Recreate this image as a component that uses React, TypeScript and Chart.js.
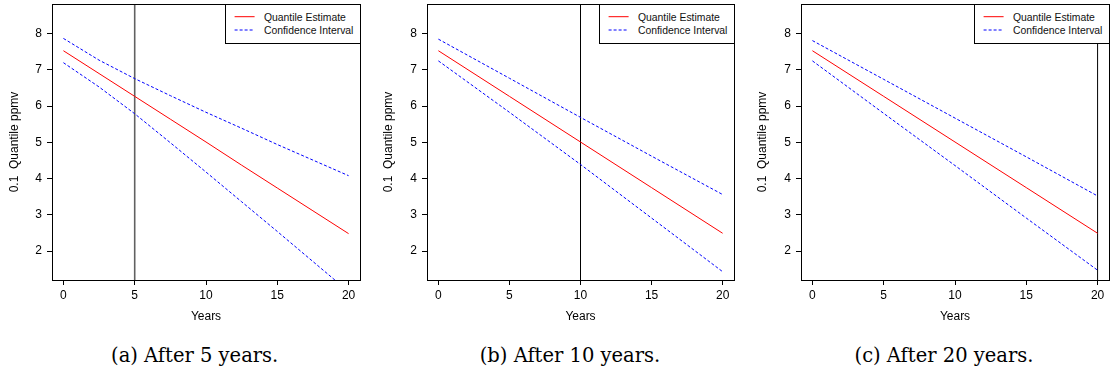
import React, { useEffect, useRef } from 'react';
import { Chart, registerables } from 'chart.js';

Chart.register(...registerables);

// ---------------- data ----------------
const xTicks = [0, 5, 10, 15, 20];
const yTicks = [2, 3, 4, 5, 6, 7, 8];
const xMin = -0.8;
const xMax = 20.8;
const yMin = 1.2;
const yMax = 8.82;

const yearsA = [0, 2.5, 5, 7.5, 10, 12.5, 15, 17.5, 20];
const estimateA = [7.53, 6.9, 6.27, 5.64, 5.01, 4.37, 3.74, 3.11, 2.48];
const upperA = [7.87, 7.27, 6.76, 6.29, 5.83, 5.39, 4.94, 4.51, 4.08];
const lowerA = [7.2, 6.53, 5.79, 4.99, 4.18, 3.36, 2.54, 1.71, 0.88];

const yearsB = [0, 5, 10, 15, 20];
const estimateB = [7.53, 6.27, 5.01, 3.75, 2.49];
const upperB = [7.85, 6.77, 5.69, 4.62, 3.56];
const lowerB = [7.25, 5.83, 4.39, 2.91, 1.43];

const yearsC = [0, 5, 10, 15, 20];
const estimateC = [7.53, 6.27, 5.01, 3.75, 2.49];
const upperC = [7.81, 6.74, 5.67, 4.6, 3.52];
const lowerC = [7.25, 5.8, 4.36, 2.91, 1.47];

const cutoffYears = [5, 10, 20];
const captions = ['(a) After 5 years.', '(b) After 10 years.', '(c) After 20 years.'];
const legendLabels = ['Quantile Estimate', 'Confidence Interval'];
const xTitle = 'Years';
const yTitle = '0.1  Quantile ppmv';

// ---------------- layout / style ----------------
const SANS = "'Liberation Sans', Arial, Helvetica, sans-serif";
const SERIF = "'DejaVu Serif', serif";
const CANVAS_H = 330;
const PLOT_TOP = 4;
const X_AXIS_H = 50;

const panelLayouts = [
  { left: 0, axisW: 52, right: 360, yTitleCenter: 15, captionX: 194.7, vColor: 'rgba(0,0,0,0.62)', vWidth: 1.6 },
  { left: 370, axisW: 57, right: 734, yTitleCenter: 388.3, captionX: 570, vColor: '#000', vWidth: 1 },
  { left: 740, axisW: 61, right: 1109, yTitleCenter: 762.8, captionX: 944, vColor: '#000', vWidth: 1 },
];

const panelData = [
  { years: yearsA, est: estimateA, up: upperA, lo: lowerA },
  { years: yearsB, est: estimateB, up: upperB, lo: lowerB },
  { years: yearsC, est: estimateC, up: upperC, lo: lowerC },
];

const boxPlugin = {
  id: 'rbox',
  afterDraw(chart: any) {
    const { ctx, chartArea } = chart;
    ctx.save();
    ctx.strokeStyle = '#000';
    ctx.lineWidth = 1;
    const l = Math.round(chartArea.left) + 0.5;
    const t = Math.round(chartArea.top) + 0.5;
    const r = Math.round(chartArea.right) + 0.5;
    const b = Math.round(chartArea.bottom) + 0.5;
    ctx.strokeRect(l, t, r - l, b - t);
    ctx.restore();
  },
};

function Panel({ idx }: { idx: number }) {
  const ref = useRef<HTMLCanvasElement | null>(null);
  const lay = panelLayouts[idx];
  const d = panelData[idx];
  const W = lay.right - lay.left + 2;

  useEffect(() => {
    if (!ref.current) return;
    const pts = (ys: number[]) => d.years.map((x, i) => ({ x, y: ys[i] }));
    const cut = cutoffYears[idx];
    const tickFont = { family: SANS, size: 12 };
    const chart = new Chart(ref.current, {
      type: 'line',
      data: {
        datasets: [
          {
            label: legendLabels[0],
            data: pts(d.est),
            borderColor: '#ff0000',
            borderWidth: 1,
            pointRadius: 0,
            fill: false,
          },
          {
            label: legendLabels[1],
            data: pts(d.up),
            borderColor: '#0000ff',
            borderWidth: 1,
            borderDash: [3, 2],
            pointRadius: 0,
            fill: false,
          },
          {
            label: legendLabels[1] + ' (lower)',
            data: pts(d.lo),
            borderColor: '#0000ff',
            borderWidth: 1,
            borderDash: [3, 2],
            pointRadius: 0,
            fill: false,
          },
          {
            label: 'cutoff',
            data: [
              { x: cut, y: yMin },
              { x: cut, y: yMax },
            ],
            borderColor: lay.vColor,
            borderWidth: lay.vWidth,
            pointRadius: 0,
            fill: false,
          },
        ],
      },
      options: {
        animation: false,
        responsive: false,
        events: [],
        layout: { padding: { top: PLOT_TOP, right: 2, left: 0, bottom: 0 } },
        plugins: { legend: { display: false }, tooltip: { enabled: false } },
        scales: {
          x: {
            type: 'linear',
            min: xMin,
            max: xMax,
            afterBuildTicks: (s: any) => {
              s.ticks = xTicks.map((v) => ({ value: v }));
            },
            afterFit: (s: any) => {
              s.height = X_AXIS_H;
              s.paddingLeft = 0;
              s.paddingRight = 0;
            },
            grid: { display: true, drawOnChartArea: false, drawTicks: true, tickLength: 5, color: '#000', lineWidth: 1 },
            border: { display: false },
            ticks: { font: tickFont, color: '#000', padding: 3.5, maxRotation: 0, autoSkip: false },
            title: { display: true, text: xTitle, font: tickFont, color: '#000', padding: { top: 0, bottom: 6.1 } },
          },
          y: {
            type: 'linear',
            min: yMin,
            max: yMax,
            afterBuildTicks: (s: any) => {
              s.ticks = yTicks.map((v) => ({ value: v }));
            },
            afterFit: (s: any) => {
              s.width = lay.axisW;
              s.paddingTop = 0;
              s.paddingBottom = 0;
            },
            grid: { display: true, drawOnChartArea: false, drawTicks: true, tickLength: 5, color: '#000', lineWidth: 1 },
            border: { display: false },
            ticks: { font: tickFont, color: '#000', padding: 5, autoSkip: false },
            title: {
              display: true,
              text: yTitle,
              font: tickFont,
              color: '#000',
              padding: { top: lay.yTitleCenter - lay.left - 7.2, bottom: 0 },
            },
          },
        },
      } as any,
      plugins: [boxPlugin],
    });
    return () => chart.destroy();
  }, [idx]);

  const legLeft = lay.right - 134.7;
  return (
    <>
      <canvas
        ref={ref}
        width={W}
        height={CANVAS_H}
        style={{ position: 'absolute', left: lay.left, top: 0, width: W, height: CANVAS_H }}
      />
      <div
        style={{
          position: 'absolute',
          left: legLeft,
          top: PLOT_TOP,
          width: 135.7,
          height: 39.7,
          boxSizing: 'border-box',
          border: '1px solid #000',
          background: '#fff',
          fontFamily: SANS,
          fontSize: 10.4,
          color: '#111',
        }}
      >
        <svg width={40} height={36} style={{ position: 'absolute', left: 0, top: 0 }}>
          <line x1={8.6} y1={11.7} x2={28.6} y2={11.7} stroke="#ff0000" strokeWidth={1} />
          <line x1={8.6} y1={25} x2={28.6} y2={25} stroke="#0000ff" strokeWidth={1} strokeDasharray="3,2" />
        </svg>
        <div style={{ position: 'absolute', left: 37.6, top: 12.3 - 6.5, lineHeight: '13px', whiteSpace: 'nowrap' }}>
          {legendLabels[0]}
        </div>
        <div style={{ position: 'absolute', left: 37.6, top: 25.3 - 6.5, lineHeight: '13px', whiteSpace: 'nowrap' }}>
          {legendLabels[1]}
        </div>
      </div>
      <div
        style={{
          position: 'absolute',
          left: lay.captionX - 150,
          width: 300,
          top: 346.3,
          textAlign: 'center',
          fontFamily: SERIF,
          fontSize: 19.5,
          lineHeight: '20px',
          color: '#000',
          whiteSpace: 'nowrap',
        }}
      >
        {captions[idx]}
      </div>
    </>
  );
}

export default function App() {
  return (
    <div style={{ position: 'absolute', left: 0, top: 0, width: 1112, height: 371, background: '#fff', overflow: 'hidden' }}>
      <Panel idx={0} />
      <Panel idx={1} />
      <Panel idx={2} />
    </div>
  );
}
